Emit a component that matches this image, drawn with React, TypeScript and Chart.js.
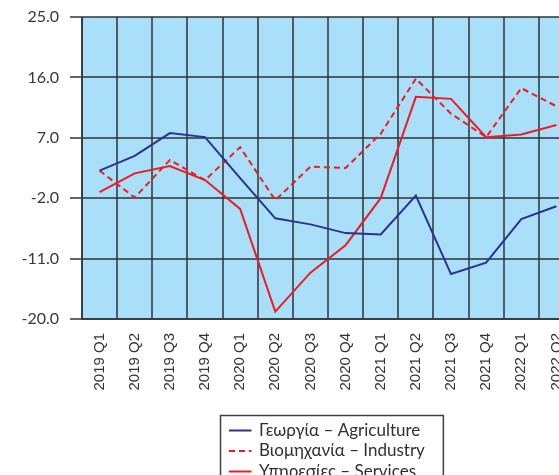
import React, { useEffect, useRef } from 'react';
import { Chart, registerables } from 'chart.js';

Chart.register(...registerables);

const categories = [
  '2019 Q1', '2019 Q2', '2019 Q3', '2019 Q4',
  '2020 Q1', '2020 Q2', '2020 Q3', '2020 Q4',
  '2021 Q1', '2021 Q2', '2021 Q3', '2021 Q4',
  '2022 Q1', '2022 Q2',
];
const agriculture = [2.1, 4.3, 7.7, 7.1, 1.0, -5.0, -5.9, -7.2, -7.4, -1.6, -13.3, -11.6, -5.1, -3.2];
const industry = [2.1, -1.9, 3.7, 0.7, 5.6, -2.3, 2.7, 2.5, 7.6, 15.8, 10.6, 7.1, 14.4, 11.7];
const services = [-1.1, 1.7, 2.8, 0.7, -3.6, -18.9, -13.1, -9.0, -2.0, 13.1, 12.8, 7.1, 7.5, 8.9];
const seriesLabels = ['Γεωργία – Agriculture', 'Βιομηχανία – Industry', 'Υπηρεσίες – Services'];
const yTicks = [-20, -11, -2, 7, 16, 25];

const BLUE = '#2e3192';
const RED = '#ed1c24';
const GRID = 'rgba(45,50,55,0.75)';

const bgPlugin = {
  id: 'plotBg',
  beforeDraw(chart: any) {
    const { ctx, chartArea } = chart;
    ctx.save();
    ctx.fillStyle = '#a9dff8';
    ctx.fillRect(chartArea.left, chartArea.top, chartArea.right - chartArea.left, chartArea.bottom - chartArea.top);
    ctx.restore();
  },
};

const boxLegend = {
  id: 'boxLegend',
  afterDraw(chart: any) {
    const { ctx, chartArea } = chart;
    const ds = chart.data.datasets;
    ctx.save();
    ctx.font = '17px Lato';
    const widths = ds.map((d: any) => ctx.measureText(d.label).width);
    const boxW = 38 + Math.max(...widths) + 19;
    const left = Math.round((chartArea.left + chartArea.right) / 2 - boxW / 2 + 3) + 0.5;
    const top = Math.round(chartArea.bottom + 96) + 0.5;
    const rowH = 20.5;
    const boxH = rowH * ds.length + 10;
    ctx.strokeStyle = '#404040';
    ctx.lineWidth = 1.5;
    ctx.strokeRect(left, top, boxW, boxH);
    ds.forEach((d: any, i: number) => {
      const y = top + 15 + i * rowH;
      ctx.beginPath();
      ctx.strokeStyle = d.borderColor;
      ctx.lineWidth = 2;
      ctx.setLineDash(d.borderDash || []);
      ctx.moveTo(left + 8.5, y);
      ctx.lineTo(left + 31, y);
      ctx.stroke();
      ctx.setLineDash([]);
      ctx.fillStyle = '#303030';
      ctx.textBaseline = 'middle';
      ctx.textAlign = 'left';
      ctx.fillText(d.label, left + 38.5, y);
    });
    ctx.restore();
  },
};

export default function App() {
  const ref = useRef<HTMLCanvasElement | null>(null);
  useEffect(() => {
    if (!ref.current) return;
    const chart = new Chart(ref.current, {
      type: 'line',
      data: {
        labels: categories,
        datasets: [
          { label: seriesLabels[0], data: agriculture, borderColor: BLUE, backgroundColor: BLUE, borderWidth: 2, pointRadius: 0, tension: 0 },
          { label: seriesLabels[1], data: industry, borderColor: RED, backgroundColor: RED, borderWidth: 2, borderDash: [6, 4], pointRadius: 0, tension: 0 },
          { label: seriesLabels[2], data: services, borderColor: RED, backgroundColor: RED, borderWidth: 2, pointRadius: 0, tension: 0 },
        ],
      },
      options: {
        responsive: false,
        animation: false,
        devicePixelRatio: 1,
        layout: { padding: { left: 0, top: 17, right: 26, bottom: 91 } },
        plugins: { legend: { display: false }, tooltip: { enabled: false } },
        scales: {
          x: {
            type: 'category',
            offset: true,
            grid: { offset: true, color: GRID, lineWidth: 2, drawTicks: false },
            border: { display: true, color: GRID, width: 2 },
            ticks: {
              autoSkip: false,
              minRotation: 90,
              maxRotation: 90,
              padding: 14,
              color: '#333333',
              font: { family: '"Liberation Sans", Arial, sans-serif', size: 15 },
            },
            afterFit: (s: any) => { s.height = 80; s.paddingLeft = 0; s.paddingRight = 0; },
          },
          y: {
            min: -20,
            max: 25,
            grid: { color: GRID, lineWidth: 2, tickLength: 12 },
            border: { display: true, color: GRID, width: 2 },
            ticks: {
              padding: 11,
              color: '#383838',
              font: { family: 'Lato, sans-serif', size: 16 },
              callback: (v: any) => Number(v).toFixed(1),
            },
            afterBuildTicks: (s: any) => { s.ticks = yTicks.map((v) => ({ value: v })); },
            afterFit: (s: any) => { s.width = 82; s.paddingTop = 0; s.paddingBottom = 0; },
          },
        },
      },
      plugins: [bgPlugin, boxLegend],
    });
    return () => chart.destroy();
  }, []);
  return (
    <div style={{ position: 'fixed', left: 0, top: 0, width: 559, height: 475, overflow: 'hidden', background: '#fff' }}>
      <canvas ref={ref} width={600} height={490} style={{ display: 'block', width: 600, height: 490 }} />
    </div>
  );
}
